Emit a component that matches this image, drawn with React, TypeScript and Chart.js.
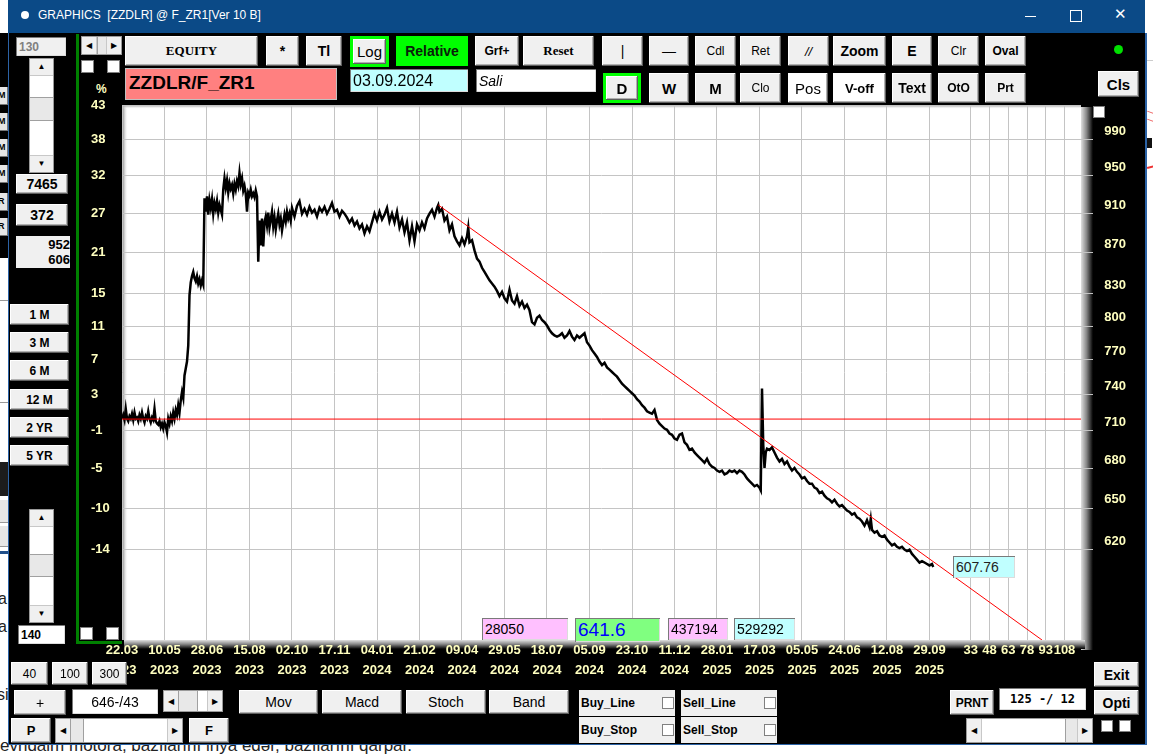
import React, { useEffect, useRef } from 'react';
import { Chart, registerables } from 'chart.js';
Chart.register(...registerables);

// ---------- data ----------
const DATE_LABELS: string[][] = [
  ['22.03', '2023'], ['10.05', '2023'], ['28.06', '2023'], ['15.08', '2023'], ['02.10', '2023'],
  ['17.11', '2023'], ['04.01', '2024'], ['21.02', '2024'], ['09.04', '2024'], ['29.05', '2024'],
  ['18.07', '2024'], ['05.09', '2024'], ['23.10', '2024'], ['11.12', '2024'], ['28.01', '2025'],
  ['17.03', '2025'], ['05.05', '2025'], ['24.06', '2025'], ['12.08', '2025'], ['29.09', '2025'],
];
const BARS_PER_DATE_LABEL = 34;
const FUTURE_LABELS = ['33', '48', '63', '78', '93', '108'];
const FIRST_FUTURE_BAR = 679;
const FUTURE_STEP = 15;
const LAST_BAR = 767.2;

// left axis: rounded percent labels and the price level of each gridline
const PCT_TICKS = [43, 38, 32, 27, 21, 15, 11, 7, 3, -1, -5, -10, -14];
const PCT_GRID_PRICES = [1019.5, 981, 941.5, 901.6, 862.4, 822.9, 792.5, 763.1, 733.3, 703.8, 673.9, 643.8, 614.3];
const PRICE_TICKS = [990, 950, 910, 870, 830, 800, 770, 740, 710, 680, 650, 620];
const BASE_PRICE = 712.65;
const PRICE_MIN = 553.8;
const PRICE_MAX = 1020;

const TREND_BARS = [253, 736];
const TREND_PRICES = [910, 553.8];

const BARS = [
  0, 1, 2, 3, 4, 5, 6, 7, 8, 9,
  10, 11, 12, 13, 14, 15, 16, 17, 18, 19,
  20, 21, 22, 23, 24, 25, 26, 27, 28, 29,
  30, 31, 32, 33, 34, 35, 36, 37, 38, 39,
  40, 41, 42, 43, 44, 45, 46, 47, 48, 49,
  50, 51, 52, 53, 54, 55, 56, 57, 58, 59,
  60, 61, 62, 63, 64, 65, 66, 67, 68, 69,
  70, 71, 72, 73, 74, 75, 76, 77, 78, 79,
  80, 81, 82, 83, 84, 85, 86, 87, 88, 89,
  90, 91, 92, 93, 94, 95, 96, 97, 98, 99,
  100, 101, 102, 103, 104, 105, 106, 107, 108, 109,
  110, 111, 112, 113, 114, 115, 116, 117, 118, 119,
  120, 121, 122, 123, 124, 125, 126, 127, 128, 129,
  130, 131, 132, 133, 134, 135,
  136, 138, 140, 142, 144, 146, 148, 150, 152, 154,
  156, 158, 160, 162, 164, 166, 168, 170, 172, 174,
  176, 178, 180, 182, 184, 186, 188, 190, 192, 194,
  196, 198, 200, 202, 204, 206, 208, 210, 212, 214,
  216, 218, 220, 222, 224, 226, 228, 230, 232, 234,
  236, 238, 240, 242, 244, 246, 248, 250, 252, 253,
  254, 256, 258, 260, 262, 264, 266, 268, 270, 272,
  274, 276, 277, 278, 280, 282, 284, 286, 288, 290,
  292, 294, 296, 298, 300, 302, 304, 306, 308, 310,
  312, 314, 316, 318, 320, 322, 324, 326, 328, 330,
  332, 334, 336, 338, 340, 342, 344, 346, 348, 350,
  352, 354, 356, 358, 360, 362, 364, 366, 368, 370,
  372, 374, 376, 378, 380, 382, 384, 386, 388, 390,
  392, 394, 396, 398, 400, 402, 404, 406, 408, 410,
  412, 414, 416, 418, 420, 422, 424, 426, 428, 430,
  432, 434, 436, 438, 440, 442, 444, 446, 448, 450,
  452, 454, 456, 458, 460, 462, 464, 466, 468, 470,
  472, 474, 476, 478, 480, 482, 484, 486, 488, 490,
  492, 494, 496, 498, 500, 502, 504, 506, 508, 510,
  511, 512, 513, 514, 515, 516, 518, 520, 522, 524,
  526, 528, 530, 532, 534, 536, 538, 540, 542, 544,
  546, 548, 550, 552, 554, 556, 558, 560, 562, 564,
  566, 568, 570, 572, 574, 576, 578, 580, 582, 584,
  586, 588, 590, 592, 594, 596, 598, 599, 600, 602,
  604, 606, 608, 610, 612, 614, 616, 618, 620, 622,
  624, 626, 628, 630, 632, 634, 636, 638, 640, 642,
  644, 646, 648, 649,
];

const CLOSES = [
  713, 716, 712, 721, 713, 711, 715, 713, 717, 712,
  718, 713, 714, 711, 716, 713, 718, 713, 710, 715,
  713, 719, 713, 710, 714, 712, 721, 711, 709, 708,
  711, 706, 709, 705, 710, 707, 702, 713, 709, 715,
  711, 718, 713, 720, 716, 724, 718, 728, 735, 730,
  749, 755, 761, 775, 821, 833, 839, 843, 837, 834,
  839, 832, 836, 830, 835, 831, 917, 903, 919, 900,
  915, 907, 916, 901, 912, 906, 914, 902, 910, 905,
  900, 926, 938, 928, 936, 923, 933, 927, 931, 922,
  932, 926, 935, 930, 944, 932, 938, 925, 930, 922,
  903, 923, 920, 926, 919, 922, 918, 925, 919, 853,
  894, 869, 896, 868, 892, 898, 889, 902, 887, 895,
  903, 888, 897, 885, 894, 901, 890, 896, 884, 892,
  900, 893, 903, 896, 901, 894,
  907, 898, 909, 914, 901, 906, 900, 908, 902, 905,
  898, 907, 903, 908, 901, 906, 912, 903, 905, 898,
  904, 901, 897, 892, 896, 889, 893, 886, 890, 881,
  888, 883, 892, 901, 894, 903, 895, 900, 907, 893,
  901, 892, 903, 887, 895, 882, 892, 874, 888, 873,
  890, 884, 892, 886, 896, 901, 905, 898, 907, 910,
  903, 906, 894, 898, 884, 890, 878, 873, 869, 876,
  870, 878, 887, 872, 874, 864, 856, 853, 847, 843,
  839, 835, 832, 829, 825, 820, 824, 818, 815, 826,
  816, 813, 820, 811, 815, 809, 812, 807, 796, 794,
  800, 802, 798, 796, 793, 789, 786, 784, 783, 784,
  786, 782, 784, 788, 783, 780, 784, 782, 784, 786,
  778, 775, 771, 768, 765, 761, 758, 760, 756, 754,
  752, 750, 748, 745, 742, 740, 738, 736, 734, 732,
  729, 727, 724, 722, 719, 718, 717, 720, 712, 709,
  707, 705, 704, 701, 700, 697, 696, 700, 701, 694,
  692, 688, 689, 686, 684, 682, 680, 678, 681, 677,
  675, 674, 672, 671, 672, 669, 670, 672, 671, 672,
  670, 672, 671, 669, 666, 664, 662, 660, 661, 659,
  657, 738, 692, 674, 686, 689, 688, 690, 686, 682,
  679, 681, 677, 679, 675, 672, 674, 671, 669, 666,
  667, 664, 662, 662, 659, 658, 655, 656, 653, 651,
  650, 648, 650, 647, 645, 646, 644, 642, 641, 639,
  640, 637, 636, 634, 631, 635, 630, 636, 628, 626,
  627, 624, 623, 624, 621, 619, 617, 618, 616, 615,
  616, 614, 613, 614, 611, 609, 607, 605, 606, 605,
  604, 603, 604, 602,
];

// ---------- styling ----------
const UI = '"Liberation Sans", Arial, sans-serif';
const NARROW = '"Liberation Sans Narrow", "Arial Narrow", "Liberation Sans", sans-serif';
const YELLOW = '#ffffc0';
const AXIS_FONT = { family: '"Liberation Sans", Arial, sans-serif', size: 13, weight: 'bold' as const };

const DATE_TICK_BARS = DATE_LABELS.map((_, i) => i * BARS_PER_DATE_LABEL);
const FUTURE_TICK_BARS = FUTURE_LABELS.map((_, i) => FIRST_FUTURE_BAR + i * FUTURE_STEP);

const framePlugin = {
  id: 'frame',
  beforeDraw(chart: any) {
    const { ctx, chartArea } = chart;
    const { left, top, right, bottom } = chartArea;
    ctx.save();
    let g = ctx.createLinearGradient(right, 0, right + 12, 0);
    g.addColorStop(0, '#e0e0e0');
    g.addColorStop(0.45, '#8a8a8a');
    g.addColorStop(1, '#000000');
    ctx.fillStyle = g;
    ctx.fillRect(right, top + 2, 12, bottom - top + 8);
    g = ctx.createLinearGradient(0, bottom, 0, bottom + 9);
    g.addColorStop(0, '#e0e0e0');
    g.addColorStop(0.45, '#8a8a8a');
    g.addColorStop(1, '#000000');
    ctx.fillStyle = g;
    ctx.fillRect(left + 2, bottom, right - left + 2, 9);
    ctx.fillStyle = '#ffffff';
    ctx.fillRect(left, top, right - left, bottom - top);
    g = ctx.createLinearGradient(left, 0, left + 6, 0);
    g.addColorStop(0, '#777777');
    g.addColorStop(1, 'rgba(255,255,255,0)');
    ctx.fillStyle = g;
    ctx.fillRect(left, top, 6, bottom - top);
    g = ctx.createLinearGradient(0, top, 0, top + 4);
    g.addColorStop(0, '#8a8a8a');
    g.addColorStop(1, 'rgba(255,255,255,0)');
    ctx.fillStyle = g;
    ctx.fillRect(left, top, right - left, 4);
    // gridline stubs running into the right bevel
    const yl = chart.scales.yl;
    ctx.strokeStyle = '#c4c4c4';
    ctx.lineWidth = 1;
    yl.ticks.forEach((t: any) => {
      const py = Math.round(yl.getPixelForValue(t.value)) + 0.5;
      if (py < top + 3 || py > bottom) return;
      ctx.beginPath();
      ctx.moveTo(right, py);
      ctx.lineTo(right + 12, py);
      ctx.stroke();
    });
    ctx.restore();
  },
};

// ---------- small UI parts ----------
type P = { x: number; y: number; w: number; h: number; children?: React.ReactNode; s?: React.CSSProperties };

const Btn = ({ x, y, w, h, children, s }: P) => (
  <div style={{
    position: 'absolute', left: x, top: y, width: w, height: h, boxSizing: 'border-box',
    background: '#f0f0f0', boxShadow: 'inset -1px -1px #5f5f5f, inset 1px 1px #ffffff, inset -2px -2px #b0b0b0',
    display: 'flex', alignItems: 'center', justifyContent: 'center', font: `bold 13px ${UI}`,
    color: '#000', whiteSpace: 'nowrap', zIndex: 3, ...s,
  }}>{children}</div>
);

const Field = ({ x, y, w, h, children, s }: P) => (
  <div style={{
    position: 'absolute', left: x, top: y, width: w, height: h, boxSizing: 'border-box',
    background: '#ffffff', boxShadow: 'inset 1px 1px #7a7a7a, inset -1px -1px #dcdcdc',
    display: 'flex', alignItems: 'center', padding: '0 3px', font: `14px ${UI}`, color: '#000',
    whiteSpace: 'nowrap', overflow: 'hidden', zIndex: 3, ...s,
  }}>{children}</div>
);

const Check = ({ x, y, size = 13 }: { x: number; y: number; size?: number }) => (
  <div style={{
    position: 'absolute', left: x, top: y, width: size, height: size, boxSizing: 'border-box',
    background: '#fff', border: '1px solid #808080', zIndex: 3,
  }} />
);

const VScroll = ({ x, y, w, h, t, th }: { x: number; y: number; w: number; h: number; t: number; th: number }) => (
  <div style={{ position: 'absolute', left: x, top: y, width: w, height: h, boxSizing: 'border-box', background: '#fff', border: '1px solid #9a9a9a', zIndex: 3 }}>
    <div style={{ position: 'absolute', left: 0, top: 0, right: 0, height: 16, background: '#f0f0f0', borderBottom: '1px solid #c8c8c8', font: `8px ${UI}`, textAlign: 'center', lineHeight: '16px' }}>▲</div>
    <div style={{ position: 'absolute', left: 0, top: t, right: 0, height: th, background: '#e8e8e8', borderTop: '1px solid #a0a0a0', borderBottom: '1px solid #a0a0a0' }} />
    <div style={{ position: 'absolute', left: 0, bottom: 0, right: 0, height: 16, background: '#f0f0f0', borderTop: '1px solid #c8c8c8', font: `8px ${UI}`, textAlign: 'center', lineHeight: '16px' }}>▼</div>
  </div>
);

const HScroll = ({ x, y, w, h, t, tw }: { x: number; y: number; w: number; h: number; t: number; tw: number }) => (
  <div style={{ position: 'absolute', left: x, top: y, width: w, height: h, boxSizing: 'border-box', background: '#fff', border: '1px solid #9a9a9a', zIndex: 3 }}>
    <div style={{ position: 'absolute', left: 0, top: 0, bottom: 0, width: 14, background: '#f0f0f0', borderRight: '1px solid #c8c8c8', font: `8px ${UI}`, display: 'flex', alignItems: 'center', justifyContent: 'center' }}>◀</div>
    <div style={{ position: 'absolute', left: t, top: 0, bottom: 0, width: tw, background: '#e8e8e8', borderLeft: '1px solid #a0a0a0', borderRight: '1px solid #a0a0a0' }} />
    <div style={{ position: 'absolute', right: 0, top: 0, bottom: 0, width: 14, background: '#f0f0f0', borderLeft: '1px solid #c8c8c8', font: `8px ${UI}`, display: 'flex', alignItems: 'center', justifyContent: 'center' }}>▶</div>
  </div>
);

const Label = ({ x, y, text, s }: { x: number; y: number; text: string; s?: React.CSSProperties }) => (
  <div style={{ position: 'absolute', left: x, top: y, whiteSpace: 'pre', zIndex: 3, ...s }}>{text}</div>
);

const TOP_ROW1: [number, number, string, React.CSSProperties?][] = [
  [125, 133, 'EQUITY', { font: 'bold 13px "Liberation Serif", serif' }],
  [266, 33, '*', { font: `bold 14px ${UI}` }],
  [306, 36, 'Tl', { font: `bold 14px ${UI}` }],
  [475, 44, 'Grf+', { font: `bold 12px ${UI}` }],
  [523, 71, 'Reset', { font: 'bold 13px "Liberation Serif", serif' }],
  [602, 41, '|', { font: `14px ${UI}` }],
  [649, 40, '—', { font: `14px ${UI}` }],
  [695, 41, 'Cdl', { font: `12px ${NARROW}` }],
  [740, 41, 'Ret', { font: `12px ${NARROW}` }],
  [788, 41, '//', { font: `italic 13px ${UI}` }],
  [833, 53, 'Zoom', { font: `bold 14px ${UI}` }],
  [892, 40, 'E', { font: `bold 14px ${UI}` }],
  [938, 41, 'Clr', { font: `12px ${NARROW}` }],
  [985, 41, 'Oval', { font: `bold 12px ${UI}` }],
];
const TOP_ROW2: [number, number, string, React.CSSProperties?][] = [
  [649, 40, 'W', { font: `bold 15px ${UI}` }],
  [695, 41, 'M', { font: `bold 15px ${UI}` }],
  [740, 41, 'Clo', { font: `12px ${NARROW}` }],
  [788, 40, 'Pos', { font: `15px ${UI}`, background: '#ffffff' }],
  [833, 53, 'V-off', { font: `bold 13px ${UI}`, background: '#ffffff' }],
  [892, 40, 'Text', { font: `bold 14px ${UI}` }],
  [938, 41, 'OtO', { font: `bold 12px ${UI}` }],
  [985, 41, 'Prt', { font: `bold 12px ${UI}` }],
];
const PERIOD_BTNS: [number, string][] = [[304, '1 M'], [332, '3 M'], [360, '6 M'], [389, '12 M'], [417, '2 YR'], [445, '5 YR']];
const SIDE_FRAGMENTS: [number, string][] = [[87, 'M'], [113, 'M'], [139, 'M'], [165, 'M'], [193, 'R'], [218, 'R']];

export default function App() {
  const ref = useRef<HTMLCanvasElement>(null);

  useEffect(() => {
    document.body.style.margin = '0';
    const priceData = BARS.map((b, i) => ({ x: b, y: CLOSES[i] }));
    const chart = new Chart(ref.current as HTMLCanvasElement, {
      type: 'line',
      data: {
        datasets: [
          { data: [{ x: 0, y: BASE_PRICE }, { x: LAST_BAR, y: BASE_PRICE }], borderColor: '#ff0000', borderWidth: 1, pointRadius: 0, xAxisID: 'x', yAxisID: 'y' },
          { data: TREND_BARS.map((b, i) => ({ x: b, y: TREND_PRICES[i] })), borderColor: '#ff0000', borderWidth: 1, pointRadius: 0, xAxisID: 'x', yAxisID: 'y' },
          { data: priceData, borderColor: '#000000', borderWidth: 2.5, pointRadius: 0, tension: 0, xAxisID: 'x', yAxisID: 'y' },
        ],
      },
      options: {
        responsive: false,
        animation: false,
        events: [],
        layout: { padding: { top: 9, left: 0, right: 0, bottom: 0 } },
        plugins: { legend: { display: false }, tooltip: { enabled: false } },
        scales: {
          x: {
            type: 'linear', position: 'bottom', min: 0, max: LAST_BAR,
            grid: { color: '#c4c4c4', lineWidth: 1, drawTicks: false },
            border: { display: false },
            afterBuildTicks: (s: any) => { s.ticks = [...DATE_TICK_BARS, ...FUTURE_TICK_BARS].map((v) => ({ value: v })); },
            ticks: {
              autoSkip: false, maxRotation: 0, minRotation: 0, padding: 0, color: YELLOW,
              font: { ...AXIS_FONT, lineHeight: 1.54 },
              callback: (v: any) => {
                const di = DATE_TICK_BARS.indexOf(Number(v));
                if (di >= 0) return DATE_LABELS[di];
                const fi = FUTURE_TICK_BARS.indexOf(Number(v));
                return fi >= 0 ? FUTURE_LABELS[fi] : '';
              },
            },
            afterFit: (s: any) => { s.height = 46; },
          },
          yl: {
            type: 'logarithmic', position: 'left', min: PRICE_MIN, max: PRICE_MAX,
            grid: { color: '#c4c4c4', lineWidth: 1, drawTicks: false },
            border: { display: false },
            afterBuildTicks: (s: any) => { s.ticks = PCT_GRID_PRICES.map((v) => ({ value: v })); },
            ticks: {
              autoSkip: false, crossAlign: 'far', padding: 0, color: YELLOW, font: AXIS_FONT,
              callback: (_v: any, i: number) => String(PCT_TICKS[i]),
            },
            afterFit: (s: any) => { s.width = 31; },
          },
          y: {
            type: 'logarithmic', position: 'right', min: PRICE_MIN, max: PRICE_MAX,
            grid: { display: false, drawTicks: false },
            border: { display: false },
            afterBuildTicks: (s: any) => { s.ticks = PRICE_TICKS.map((v) => ({ value: v })); },
            ticks: {
              autoSkip: false, crossAlign: 'far', padding: 0, color: YELLOW, font: AXIS_FONT,
              callback: (v: any) => String(v),
            },
            afterFit: (s: any) => { s.width = 45; },
          },
        },
      } as any,
      plugins: [framePlugin],
    });
    return () => chart.destroy();
  }, []);

  return (
    <div style={{ position: 'fixed', left: 0, top: 0, width: 1153, height: 755, overflow: 'hidden', background: '#ffffff', fontFamily: UI }}>
      {/* background window fragments */}
      <div style={{ position: 'absolute', left: 0, top: 33, width: 8, height: 225, background: '#000' }} />
      {SIDE_FRAGMENTS.map(([y, t]) => (
        <div key={String(y)} style={{ position: 'absolute', left: 0, top: y, width: 7, height: 17, background: '#e6e6e6', borderRight: '1px solid #777', borderBottom: '1px solid #777', overflow: 'hidden', font: `bold 9px ${UI}`, lineHeight: '17px', textIndent: -2, zIndex: 0 }}>{t}</div>
      ))}
      <div style={{ position: 'absolute', left: 0, top: 300, width: 8, height: 1, background: '#999' }} />
      <div style={{ position: 'absolute', left: 0, top: 402, width: 8, height: 1, background: '#999' }} />
      <div style={{ position: 'absolute', left: 0, top: 462, width: 8, height: 34, background: '#1c1c1c' }} />
      <div style={{ position: 'absolute', left: 0, top: 500, width: 8, height: 22, background: '#e6e6e6', borderBottom: '1px solid #999' }} />
      <div style={{ position: 'absolute', left: 0, top: 526, width: 8, height: 20, background: '#e6e6e6', borderBottom: '1px solid #999' }} />
      <div style={{ position: 'absolute', left: 0, top: 551, width: 8, height: 3, background: '#1f4f8a' }} />
      <Label x={-2} y={590} text="a" s={{ font: `16px ${UI}`, color: '#222', zIndex: 0 }} />
      <Label x={-2} y={618} text="a" s={{ font: `16px ${UI}`, color: '#222', zIndex: 0 }} />
      <Label x={-3} y={686} text="si" s={{ font: `16px ${UI}`, color: '#222', zIndex: 0 }} />
      <Label x={0} y={736} text="evndaim motora, bazılarını inya edər, bazılarını qarpar." s={{ font: `17px ${UI}`, color: '#222', zIndex: 0 }} />
      <div style={{ position: 'absolute', left: 1147, top: 112, width: 8, height: 1, background: '#e66', transform: 'rotate(20deg)', zIndex: 0 }} />
      <div style={{ position: 'absolute', left: 1147, top: 120, width: 8, height: 1, background: '#e66', transform: 'rotate(20deg)', zIndex: 0 }} />
      <div style={{ position: 'absolute', left: 1147, top: 138, width: 5, height: 10, background: '#111', zIndex: 0 }} />
      <div style={{ position: 'absolute', left: 1147, top: 166, width: 8, height: 2, background: '#e33', transform: 'rotate(-15deg)', zIndex: 0 }} />
      <div style={{ position: 'absolute', left: 1147, top: 60, width: 8, height: 1, background: '#ccc', zIndex: 0 }} />

      {/* title bar */}
      <div style={{ position: 'absolute', left: 8, top: 0, width: 1137, height: 33, background: '#0b4a87', zIndex: 1 }} />
      <div style={{ position: 'absolute', left: 21, top: 11, width: 8, height: 8, borderRadius: 4, background: '#fff', zIndex: 2 }} />
      <Label x={38} y={8} text="GRAPHICS  [ZZDLR] @ F_ZR1[Ver 10 B]" s={{ font: `12px ${UI}`, color: '#fff' }} />
      <div style={{ position: 'absolute', left: 1025, top: 16, width: 11, height: 1, background: '#fff', zIndex: 2 }} />
      <div style={{ position: 'absolute', left: 1070, top: 10, width: 10, height: 10, border: '1px solid #fff', zIndex: 2 }} />
      <Label x={1114} y={5} text="✕" s={{ font: `15px ${UI}`, color: '#fff' }} />

      {/* window body */}
      <div style={{ position: 'absolute', left: 8, top: 33, width: 1139, height: 712, boxSizing: 'border-box', background: '#000', borderLeft: '1px solid #2c63a6', borderRight: '2px solid #2c63a6', borderBottom: '1px solid #2c63a6', zIndex: 1 }} />

      {/* left panel */}
      <Field x={16} y={37} w={50} h={19} s={{ background: '#f0f0f0', color: '#808080', font: `bold 12px ${UI}` }}>130</Field>
      <VScroll x={29} y={58} w={25} h={115} t={38} th={22} />
      <Btn x={16} y={174} w={52} h={20} s={{ font: `bold 14px ${UI}` }}>7465</Btn>
      <Btn x={16} y={204} w={52} h={22} s={{ font: `bold 14px ${UI}` }}>372</Btn>
      <div style={{ position: 'absolute', left: 16, top: 236, width: 54, height: 32, background: '#f0f0f0', font: `bold 13px ${UI}`, textAlign: 'right', lineHeight: '15px', paddingTop: 1, boxSizing: 'border-box', zIndex: 3 }}>952<br />606</div>
      {PERIOD_BTNS.map(([y, t]) => <Btn key={t} x={10} y={y} w={59} h={21} s={{ font: `bold 12px ${UI}` }}>{t}</Btn>)}
      <VScroll x={29} y={509} w={25} h={114} t={44} th={21} />
      <Field x={18} y={625} w={47} h={19} s={{ font: `bold 12px ${UI}` }}>140</Field>

      {/* green frame of chart */}
      <div style={{ position: 'absolute', left: 76, top: 34, width: 3, height: 610, background: '#008000', zIndex: 2 }} />
      <div style={{ position: 'absolute', left: 76, top: 641, width: 46, height: 3, background: '#008000', zIndex: 2 }} />
      <HScroll x={81} y={36} w={41} h={19} t={15} tw={10} />
      <Check x={81} y={60} />
      <Check x={107} y={60} />
      <Check x={80} y={627} />
      <Check x={106} y={627} />
      <Label x={96} y={82} text="%" s={{ font: `bold 12px ${UI}`, color: YELLOW }} />

      {/* top toolbar */}
      {TOP_ROW1.map(([x, w, t, s]) => <Btn key={'r1' + t} x={x} y={36} w={w} h={30} s={s}>{t}</Btn>)}
      <div style={{ position: 'absolute', left: 350, top: 36, width: 39, height: 31, background: '#00ff00', zIndex: 2 }} />
      <Btn x={353} y={39} w={33} h={25} s={{ font: `15px ${UI}` }}>Log</Btn>
      <Btn x={396} y={36} w={72} h={30} s={{ background: '#00ff00', boxShadow: 'none', font: `bold 14px ${UI}`, color: '#0a200a' }}>Relative</Btn>
      {TOP_ROW2.map(([x, w, t, s]) => <Btn key={'r2' + t} x={x} y={73} w={w} h={30} s={s}>{t}</Btn>)}
      <div style={{ position: 'absolute', left: 603, top: 73, width: 38, height: 30, background: '#00ff00', zIndex: 2 }} />
      <Btn x={606} y={76} w={32} h={24} s={{ font: `bold 15px ${UI}` }}>D</Btn>
      <div style={{ position: 'absolute', left: 125, top: 68, width: 212, height: 32, boxSizing: 'border-box', background: '#ff8080', border: '1px solid #c0c0c0', font: `bold 19px ${UI}`, padding: '3px 3px', zIndex: 3 }}>ZZDLR/F_ZR1</div>
      <Field x={350} y={69} w={118} h={23} s={{ background: '#c0ffff', font: `16px ${UI}` }}>03.09.2024</Field>
      <Field x={476} y={69} w={120} h={23} s={{ font: `italic 14px ${UI}` }}>Sali</Field>
      <div style={{ position: 'absolute', left: 1114, top: 45, width: 9, height: 9, borderRadius: 5, background: '#00e000', zIndex: 3 }} />
      <Btn x={1098} y={71} w={41} h={26} s={{ font: `bold 15px ${UI}` }}>Cls</Btn>
      <Check x={1093} y={106} size={12} />

      {/* chart canvas */}
      <canvas ref={ref} width={1035} height={590} style={{ position: 'absolute', left: 91, top: 96, width: 1035, height: 590, zIndex: 2 }} />

      {/* info boxes on the chart */}
      <Field x={482} y={618} w={86} h={22} s={{ background: '#ffc0ff', font: `14px ${UI}` }}>28050</Field>
      <Field x={575} y={618} w={85} h={24} s={{ background: '#80ff80', font: `19px ${UI}`, color: '#0000ff' }}>641.6</Field>
      <Field x={668} y={618} w={60} h={22} s={{ background: '#ffc0ff', font: `14px ${UI}` }}>437194</Field>
      <Field x={734} y={618} w={61} h={22} s={{ background: '#c0ffff', font: `14px ${UI}` }}>529292</Field>
      <Field x={953} y={556} w={62} h={22} s={{ background: '#c0ffff', font: `14px ${UI}`, color: '#222' }}>607.76</Field>

      {/* bottom controls */}
      <Btn x={11} y={662} w={37} h={23} s={{ font: `12px ${UI}` }}>40</Btn>
      <Btn x={52} y={662} w={36} h={23} s={{ font: `12px ${UI}` }}>100</Btn>
      <Btn x={92} y={662} w={35} h={23} s={{ font: `12px ${UI}` }}>300</Btn>
      <Btn x={14} y={690} w={52} h={25} s={{ font: `14px ${UI}` }}>+</Btn>
      <Field x={72} y={689} w={86} h={25} s={{ justifyContent: 'center', font: `14px ${UI}` }}>646-/43</Field>
      <HScroll x={163} y={690} w={60} h={22} t={14} tw={18} />
      <Btn x={239} y={690} w={79} h={24} s={{ font: `14px ${UI}` }}>Mov</Btn>
      <Btn x={322} y={690} w={80} h={24} s={{ font: `14px ${UI}` }}>Macd</Btn>
      <Btn x={406} y={690} w={80} h={24} s={{ font: `14px ${UI}` }}>Stoch</Btn>
      <Btn x={489} y={690} w={80} h={24} s={{ font: `14px ${UI}` }}>Band</Btn>
      <Btn x={11} y={718} w={40} h={25} s={{ font: `bold 13px ${UI}` }}>P</Btn>
      <HScroll x={55} y={718} w={128} h={25} t={14} tw={12} />
      <Btn x={189} y={718} w={40} h={25} s={{ font: `bold 13px ${UI}` }}>F</Btn>

      {[[579, 690, 'Buy_Line'], [681, 690, 'Sell_Line'], [579, 717, 'Buy_Stop'], [681, 717, 'Sell_Stop']].map(([x, y, t]) => (
        <React.Fragment key={String(t)}>
          <div style={{ position: 'absolute', left: Number(x), top: Number(y), width: 96, height: 26, background: '#f0f0f0', font: `bold 12px ${UI}`, display: 'flex', alignItems: 'center', paddingLeft: 2, boxSizing: 'border-box', zIndex: 3 }}>{t}</div>
          <Check x={Number(x) + 83} y={Number(y) + 7} size={12} />
        </React.Fragment>
      ))}

      <Btn x={950} y={690} w={44} h={25} s={{ font: `bold 12px ${UI}` }}>PRNT</Btn>
      <Field x={999} y={688} w={87} h={22} s={{ justifyContent: 'center', font: `bold 12px "DejaVu Sans Mono", monospace` }}>125 -/ 12</Field>
      <Btn x={1094} y={662} w={45} h={25} s={{ font: `bold 14px ${UI}` }}>Exit</Btn>
      <Btn x={1094} y={690} w={45} h={25} s={{ font: `bold 14px ${UI}` }}>Opti</Btn>
      <HScroll x={966} y={718} w={127} h={25} t={98} tw={12} />
      <Check x={1101} y={720} size={12} />
      <Check x={1119} y={720} size={12} />
    </div>
  );
}
